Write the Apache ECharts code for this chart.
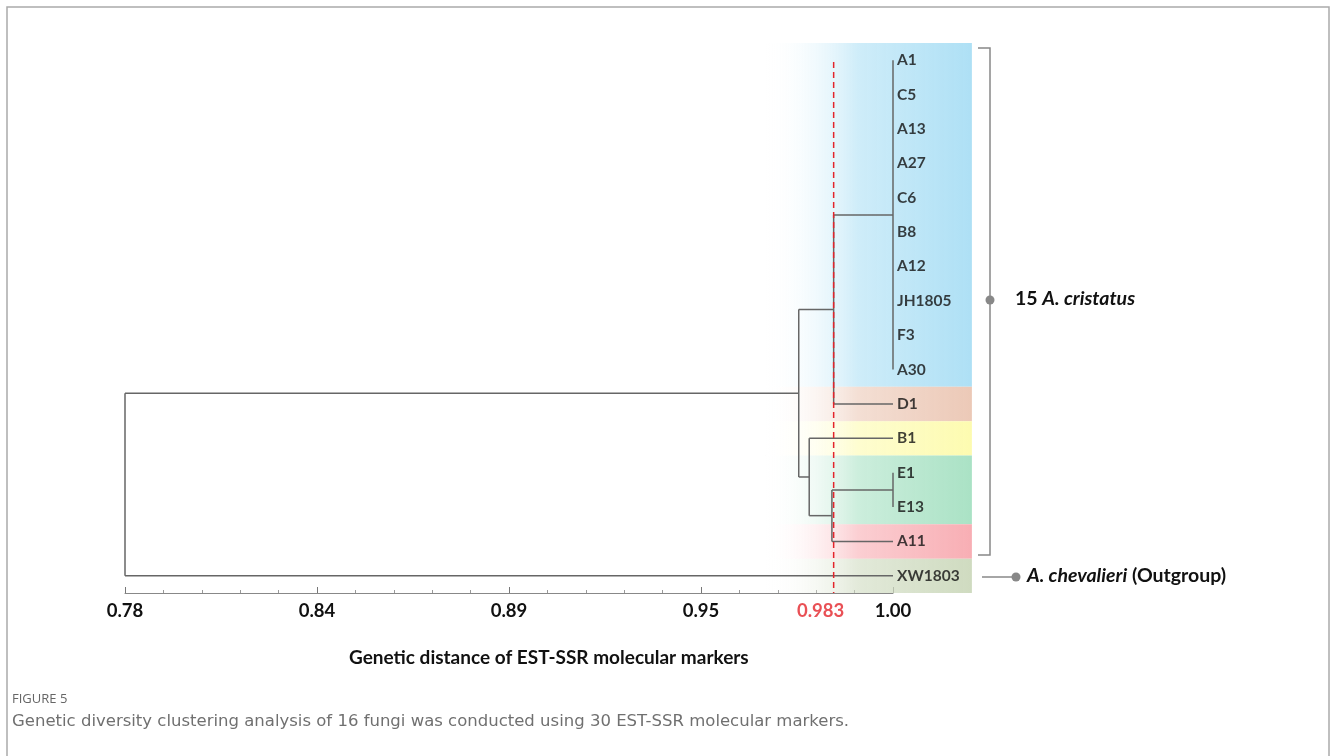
<!DOCTYPE html>
<html>
<head>
<meta charset="utf-8">
<script src="https://cdn.jsdelivr.net/npm/echarts@6/dist/echarts.min.js"></script>
<style>
  html, body { margin: 0; padding: 0; background: #fff; }
  #chart { width: 1332px; height: 756px; }
</style>
</head>
<body>
<div id="chart"></div>
<script>
(function () {
  "use strict";
  const chart = echarts.init(document.getElementById("chart"));

  // leaves, top to bottom
  const leaves = ["A1", "C5", "A13", "A27", "C6", "B8", "A12", "JH1805", "F3", "A30",
                  "D1", "B1", "E1", "E13", "A11", "XW1803"];
  // clusters: height (similarity) + children (leaf index or "c" + cluster index)
  const clusterHeights = [1.00, 0.983, 1.00, 0.9825, 0.976, 0.973, 0.78];
  const clusterChildren = [
    [0, 1, 2, 3, 4, 5, 6, 7, 8, 9],
    ["c0", 10],
    [12, 13],
    ["c2", 14],
    [11, "c3"],
    ["c1", "c4"],
    ["c5", 15],
  ];
  const cutoff = 0.983;
  const axisMin = 0.78, axisMax = 1.00, axisStep = 0.055;

  // coloured bands behind the labels: [firstRow, lastRow, colour]
  const bandRows = [[0, 9, "#aee0f5"], [10, 10, "#ecc9b7"], [11, 11, "#fdfbb0"],
                    [12, 13, "#aae2c5"], [14, 14, "#f8aeb4"], [15, 15, "#cfdbc0"]];
  const bandFrom = 0.9633, bandTo = 1.0226;

  // build dendrogram segments
  const segs = [];
  const nodeY = [];
  const pos = c => (typeof c === "number") ? { x: 1.00, y: c } : { x: clusterHeights[+c.slice(1)], y: nodeY[+c.slice(1)] };
  clusterChildren.forEach((kids, i) => {
    const h = clusterHeights[i];
    const ps = kids.map(pos);
    const ys = ps.map(p => p.y);
    const y0 = Math.min(...ys), y1 = Math.max(...ys);
    nodeY[i] = (y0 + y1) / 2;
    segs.push([h, y0, h, y1]);
    ps.forEach(p => { if (p.x !== h) segs.push([h, p.y, p.x, p.y]); });
  });

  const font = "Lato, 'Open Sans', sans-serif";
  const rich = {
    b: { fontSize: 19.5, fontWeight: "bold", fontFamily: font, fill: "#111" },
    i: { fontSize: 19.5, fontWeight: "bold", fontStyle: "italic", fontFamily: font, fill: "#111" },
  };

  chart.setOption({
    animation: false,
    grid: { left: 125, right: 439, top: 43, bottom: 163 },
    xAxis: {
      type: "value", min: axisMin, max: axisMax, interval: axisStep, position: "bottom",
      axisLine: { show: true, onZero: false, lineStyle: { color: "#888", width: 1 } },
      axisTick: { show: true, inside: true, length: 6, lineStyle: { color: "#777" } },
      minorTick: { show: true, splitNumber: 5, length: 3, lineStyle: { color: "#999" } },
      splitLine: { show: false },
      axisLabel: {
        margin: 9, color: "#111", fontSize: 18.5, fontWeight: "bold", fontFamily: font,
        formatter: v => (Math.round(v * 100) / 100).toFixed(2),
      },
    },
    yAxis: { type: "value", min: -0.5, max: 15.5, inverse: true, show: false },
    graphic: [
      { type: "rect", shape: { x: 7, y: 7, width: 1322, height: 800 }, silent: true,
        style: { fill: "none", stroke: "#aaa", lineWidth: 1.5 } },
      // bracket for A. cristatus
      { type: "polyline", shape: { points: [[978, 48], [990, 48], [990, 555], [978, 555]] },
        style: { stroke: "#888", lineWidth: 1.5, fill: "none" } },
      { type: "circle", shape: { cx: 990, cy: 300, r: 4.5 }, style: { fill: "#888" } },
      { type: "text", left: 1015, top: 289, style: { text: "{b|15 }{i|A. cristatus}", rich } },
      { type: "line", shape: { x1: 982, y1: 577, x2: 1016, y2: 577 }, style: { stroke: "#888", lineWidth: 1.5 } },
      { type: "circle", shape: { cx: 1016, cy: 577, r: 4.5 }, style: { fill: "#888" } },
      { type: "text", left: 1027, top: 566, style: { text: "{i|A. chevalieri}{b| (Outgroup)}", rich } },
      { type: "text", left: 349, top: 648, style: {
          text: "Genetic distance of EST-SSR molecular markers", fill: "#111",
          font: "bold 19px " + font } },
      { type: "text", left: 12, top: 693, style: {
          text: "FIGURE 5", fill: "#666", font: "13px 'Open Sans', sans-serif" } },
      { type: "text", left: 12, top: 713, style: {
          text: "Genetic diversity clustering analysis of 16 fungi was conducted using 30 EST-SSR molecular markers.",
          fill: "#707070", font: "16.5px 'DejaVu Sans', sans-serif" } },
    ],
    series: [
      {
        type: "custom", clip: false, z: 1,
        data: bandRows.map(r => [r[0] - 0.5, r[1] + 0.5, r[2]]),
        renderItem: (params, api) => {
          const c = bandRows[params.dataIndex][2];
          const p0 = api.coord([bandFrom, api.value(0)]);
          const p1 = api.coord([bandTo, api.value(1)]);
          return {
            type: "rect",
            shape: { x: p0[0], y: p0[1], width: p1[0] - p0[0], height: p1[1] - p0[1] },
            style: {
              fill: new echarts.graphic.LinearGradient(0, 0, 1, 0, [
                { offset: 0, color: "rgba(255,255,255,0)" },
                { offset: 0.45, color: echarts.color.modifyAlpha(c, 0.6) },
                { offset: 1, color: c },
              ]),
            },
          };
        },
      },
      {
        type: "custom", clip: false, z: 3,
        data: segs,
        renderItem: (params, api) => {
          const a = api.coord([api.value(0), api.value(1)]);
          const b = api.coord([api.value(2), api.value(3)]);
          return { type: "line", shape: { x1: a[0], y1: a[1], x2: b[0], y2: b[1] },
                   style: { stroke: "#666", lineWidth: 1.5 } };
        },
      },
      {
        type: "line", z: 4, symbol: "none",
        data: [[cutoff, 0.05], [cutoff, 15.5]],
        lineStyle: { color: "#e3242b", width: 1.5, type: [6, 4] },
      },
      {
        type: "scatter", z: 5, symbolSize: 0, silent: true,
        data: leaves.map((n, i) => ({ value: [1.00, i], name: n })),
        label: { show: true, position: "right", distance: 4, formatter: p => p.name,
                 color: "#111", fontSize: 15.5, fontWeight: "bold", fontFamily: font },
      },
      {
        type: "scatter", z: 5, symbolSize: 0, silent: true,
        data: [{ value: [cutoff, 15.5], name: "0.983" }],
        label: { show: true, position: "bottom", distance: 9, offset: [-13, 0], formatter: p => p.name,
                 color: "#e3242b", fontSize: 18.5, fontWeight: "bold", fontFamily: font },
      },
    ],
  });

  window.addEventListener("resize", () => chart.resize());
})();
</script>
</body>
</html>
